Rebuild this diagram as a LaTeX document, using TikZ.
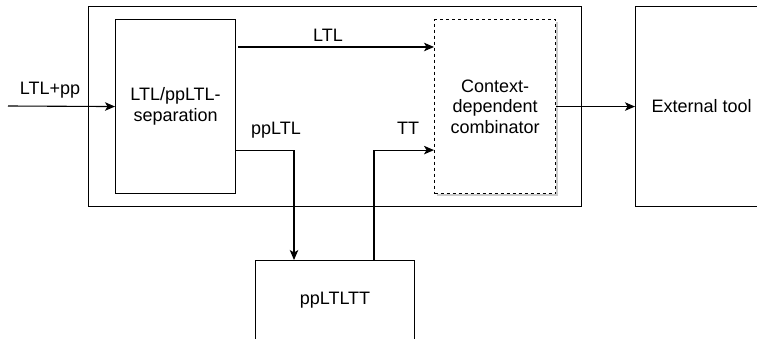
\documentclass[tikz,border=0pt]{standalone}
\usepackage{fontspec}
\setmainfont{Liberation Sans}
\usetikzlibrary{arrows.meta,shadows,calc}
\begin{document}
\begin{tikzpicture}[x=1pt,y=-1pt,
  font=\fontsize{18}{20.5}\selectfont,
  box/.style={draw=black,line width=1.1pt,fill=white,inner sep=0pt,anchor=north west,align=center},
  conn/.style={draw=black,line width=1.1pt,-{Stealth[length=10pt,width=8.5pt,inset=2.5pt]}},
  lbl/.style={inner sep=0pt}]
\useasboundingbox (0,0) rectangle (757,339);
\clip (0,0) rectangle (757,339);
\node[box,minimum width=493pt,minimum height=200pt] (outer) at (88,6) {};
\node[box,minimum width=120pt,minimum height=174pt] (sep) at (115,19) {LTL/ppLTL-\\separation};
\node[box,dashed,minimum width=121pt,minimum height=174pt,
  drop shadow={shadow xshift=2.5pt,shadow yshift=-2.5pt,opacity=0.5,fill=gray!80}] (comb) at (434,19) {Context-\\dependent\\combinator};
\node[box,minimum width=132pt,minimum height=200pt] (ext) at (635,6) {External tool};
\node[box,minimum width=159pt,minimum height=80pt] (pp) at (255,260) {ppLTLTT};
\coordinate (in) at (8,106);
\draw[conn] (in) -- (sep.west);
\node[lbl] (linp) at (50,90) {LTL+pp};
\coordinate (ltls) at ($(sep.north east)+(2,28)$);
\draw[conn] (ltls) -- (comb.west |- ltls);
\node[lbl] (lltl) at (328,35) {LTL};
\coordinate (pps) at ($(sep.south east)+(0,-44)$);
\coordinate (ppd) at ($(pp.north west)+(39,0)$);
\draw[conn] (pps) -| (ppd);
\node[lbl] (lpp) at (276,130) {ppLTL};
\coordinate (tts) at ($(pp.north west)+(119,0)$);
\draw[conn] (tts) |- (comb.west |- pps);
\node[lbl] (ltt) at (408,128) {TT};
\draw[conn] (comb.east) -- (ext.west);
\end{tikzpicture}
\end{document}
